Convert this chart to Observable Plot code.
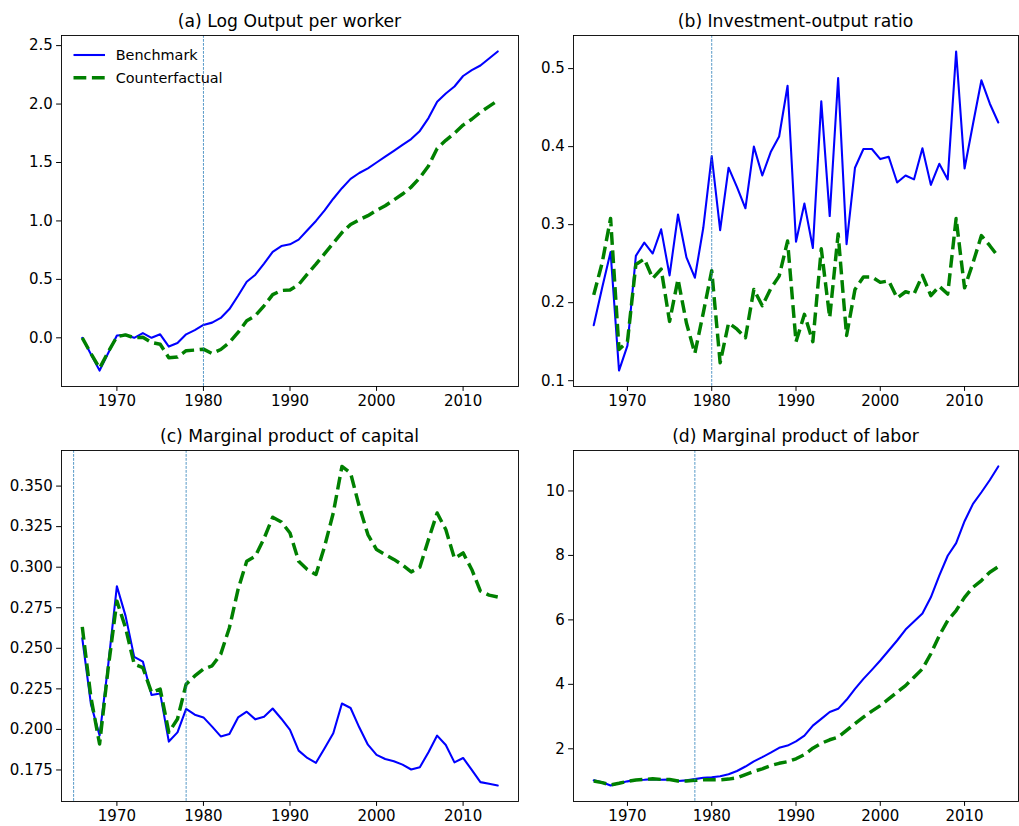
<!DOCTYPE html>
<html><head><meta charset="utf-8">
<script src="https://cdn.jsdelivr.net/npm/d3@7"></script>
<script src="https://cdn.jsdelivr.net/npm/@observablehq/plot@0.6"></script>
<style>
body{margin:0;background:#fff;font-family:"DejaVu Sans",sans-serif;}
#fig{position:relative;width:1019px;height:826px;overflow:hidden;background:#fff;}
.panel{position:absolute;}
.title{position:absolute;text-align:center;font-family:"DejaVu Sans",sans-serif;font-size:17.2px;line-height:20px;color:#000;white-space:nowrap;}
</style></head><body><div id="fig"></div>
<script>
const years = [1966,1967,1968,1969,1970,1971,1972,1973,1974,1975,1976,1977,1978,1979,1980,1981,1982,1983,1984,1985,1986,1987,1988,1989,1990,1991,1992,1993,1994,1995,1996,1997,1998,1999,2000,2001,2002,2003,2004,2005,2006,2007,2008,2009,2010,2011,2012,2013,2014];

const seriesNames = ["Benchmark", "Counterfactual"];
const titles = ["(a) Log Output per worker", "(b) Investment-output ratio", "(c) Marginal product of capital", "(d) Marginal product of labor"];
const xTicks = [1970, 1980, 1990, 2000, 2010];

// (a) Log output per worker
const outputBench = [0.00,-0.14,-0.28,-0.13,0.02,0.025,0.00,0.04,0.00,0.03,-0.075,-0.045,0.03,0.066,0.11,0.13,0.17,0.246,0.36,0.48,0.54,0.635,0.735,0.785,0.80,0.84,0.92,1.00,1.09,1.19,1.28,1.36,1.41,1.45,1.50,1.55,1.60,1.65,1.70,1.77,1.88,2.02,2.09,2.15,2.24,2.29,2.33,2.39,2.45];
const outputCf = [0.00,-0.135,-0.26,-0.12,0.01,0.025,0.00,0.005,-0.04,-0.055,-0.17,-0.165,-0.11,-0.105,-0.097,-0.134,-0.10,-0.04,0.046,0.146,0.19,0.274,0.37,0.405,0.41,0.455,0.545,0.63,0.72,0.81,0.90,0.97,1.01,1.045,1.09,1.13,1.18,1.23,1.29,1.37,1.47,1.62,1.69,1.75,1.82,1.87,1.93,1.98,2.03];
const outputTicks = [0, 0.5, 1.0, 1.5, 2.0, 2.5];
const outputRules = [1980];

// (b) Investment-output ratio
const invBench = [0.171,0.219,0.265,0.113,0.145,0.26,0.277,0.263,0.294,0.235,0.313,0.258,0.232,0.296,0.388,0.293,0.373,0.348,0.321,0.40,0.363,0.393,0.413,0.478,0.278,0.327,0.270,0.458,0.311,0.488,0.275,0.373,0.397,0.397,0.384,0.387,0.354,0.363,0.358,0.398,0.351,0.378,0.358,0.522,0.372,0.429,0.485,0.455,0.431];
const invCf = [0.21,0.251,0.308,0.14,0.15,0.249,0.256,0.231,0.243,0.176,0.23,0.174,0.135,0.187,0.241,0.123,0.174,0.166,0.155,0.217,0.196,0.218,0.234,0.279,0.150,0.185,0.150,0.269,0.181,0.288,0.158,0.217,0.233,0.233,0.226,0.228,0.206,0.214,0.211,0.235,0.209,0.221,0.211,0.308,0.219,0.251,0.286,0.273,0.259];
const invTicks = [0.1, 0.2, 0.3, 0.4, 0.5];
const invRules = [1980];

// (c) Marginal product of capital
const mpkBench = [0.2562,0.2156,0.1962,0.240,0.2883,0.270,0.2447,0.2418,0.2212,0.2222,0.1925,0.1982,0.2126,0.2091,0.2074,0.2017,0.1957,0.1972,0.2074,0.2109,0.2062,0.2078,0.2129,0.2066,0.1997,0.1869,0.1824,0.1794,0.1884,0.1976,0.216,0.2132,0.2013,0.1906,0.1843,0.1818,0.1804,0.1783,0.1753,0.1767,0.1859,0.1962,0.1904,0.1797,0.1824,0.1751,0.1675,0.1665,0.1654];
const mpkCf = [0.2632,0.2197,0.191,0.238,0.2791,0.2627,0.2402,0.2381,0.2228,0.2249,0.1982,0.2064,0.2279,0.233,0.2372,0.2392,0.2464,0.2627,0.2863,0.3037,0.3068,0.3177,0.3308,0.3279,0.3211,0.3037,0.2986,0.2955,0.3129,0.3334,0.3621,0.358,0.3375,0.3201,0.3109,0.3078,0.3048,0.3013,0.2971,0.300,0.317,0.3334,0.3232,0.3054,0.3088,0.2986,0.2853,0.2828,0.2816];
const mpkTicks = [0.175, 0.200, 0.225, 0.250, 0.275, 0.300, 0.325, 0.350];
const mpkRules = [1965, 1978];

// (d) Marginal product of labor
const mplBench = [1.02,0.96,0.86,0.93,0.99,1.03,1.04,1.06,1.04,1.05,1.00,1.02,1.06,1.10,1.12,1.15,1.21,1.31,1.45,1.61,1.74,1.88,2.03,2.10,2.23,2.41,2.72,2.93,3.14,3.24,3.52,3.86,4.17,4.45,4.74,5.05,5.36,5.70,5.95,6.20,6.70,7.37,7.99,8.38,9.06,9.60,9.96,10.34,10.76];
const mplCf = [1.00,0.95,0.88,0.93,0.99,1.03,1.05,1.07,1.05,1.05,1.00,1.00,1.02,1.04,1.04,1.04,1.06,1.10,1.20,1.30,1.38,1.48,1.55,1.60,1.69,1.82,2.02,2.17,2.28,2.36,2.57,2.78,2.98,3.17,3.34,3.55,3.76,3.96,4.22,4.48,4.95,5.51,5.98,6.29,6.70,7.01,7.22,7.48,7.65];
const mplTicks = [2, 4, 6, 8, 10];
const mplRules = [1978];

const fig = document.getElementById("fig");

function padDomain(a, b) {
  const lo = Math.min(...a, ...b), hi = Math.max(...a, ...b), m = (hi - lo) * 0.05;
  return [lo - m, hi + m];
}
const xDomain = padDomain(years, years);
const FS = 15;

function panel(o) {
  const toRows = (vals, name) => years.map((y, i) => ({year: y, value: vals[i], series: name}));
  const bench = toRows(o.bench, seriesNames[0]);
  const cf = toRows(o.cf, seriesNames[1]);
  const svg = Plot.plot({
    width: o.width, height: o.height,
    marginTop: o.mt, marginRight: o.mr, marginBottom: o.mb, marginLeft: o.ml,
    style: {fontFamily: "DejaVu Sans", fontSize: FS + "px", color: "#000", background: "white", overflow: "visible"},
    x: {domain: xDomain, label: null},
    y: {domain: padDomain(o.bench, o.cf), label: null},
    marks: [
      Plot.axisX(xTicks, {tickFormat: "d", label: null, tickSize: 4.9, tickPadding: 3.6, fontSize: FS, fontFamily: "DejaVu Sans", stroke: "#000", fill: "#000"}),
      Plot.axisY(o.yTicks, {tickFormat: o.yFormat, label: null, tickSize: 4.9, tickPadding: 3.8, fontSize: FS, fontFamily: "DejaVu Sans", stroke: "#000", fill: "#000"}),
      Plot.line(bench, {x: "year", y: "value", stroke: "blue", strokeWidth: 2.08}),
      Plot.line(cf, {x: "year", y: "value", stroke: "green", strokeWidth: 3.47, strokeDasharray: "12.8,5.6", strokeLinecap: "butt"}),
      Plot.ruleX(o.rules, {stroke: "#1f77b4", strokeWidth: 0.75, strokeDasharray: "2.8,1.2"}),
      Plot.frame({stroke: "#000", strokeWidth: 0.9})
    ]
  });
  const wrap = document.createElement("div");
  wrap.className = "panel";
  wrap.style.left = o.left + "px";
  wrap.style.top = o.top + "px";
  wrap.appendChild(svg);
  fig.appendChild(wrap);
  const t = document.createElement("div");
  t.className = "title";
  t.textContent = o.title;
  t.style.left = (o.left + o.ml) + "px";
  t.style.width = (o.width - o.ml - o.mr) + "px";
  t.style.top = (o.top + o.mt - 8.3 - 16.2) + "px";
  fig.appendChild(t);
  return svg;
}

const svgA = panel({bench: outputBench, cf: outputCf, yTicks: outputTicks, yFormat: ".1f", rules: outputRules,
  left: 0, top: 0, width: 519, height: 410, mt: 35, mr: 1, mb: 24, ml: 61, title: titles[0]});
panel({bench: invBench, cf: invCf, yTicks: invTicks, yFormat: ".1f", rules: invRules,
  left: 519, top: 0, width: 500, height: 410, mt: 35, mr: 1, mb: 24, ml: 54, title: titles[1]});
panel({bench: mpkBench, cf: mpkCf, yTicks: mpkTicks, yFormat: ".3f", rules: mpkRules,
  left: 0, top: 410, width: 519, height: 416, mt: 40, mr: 1, mb: 25, ml: 61, title: titles[2]});
panel({bench: mplBench, cf: mplCf, yTicks: mplTicks, yFormat: "d", rules: mplRules,
  left: 519, top: 410, width: 500, height: 416, mt: 40, mr: 1, mb: 25, ml: 54, title: titles[3]});

// legend in panel (a)
const lg = d3.select(svgA).append("g").attr("font-family", "DejaVu Sans").attr("font-size", "14.4px").attr("text-anchor", "start");
const legendStyles = [
  {stroke: "blue", width: 2.08, dash: null},
  {stroke: "green", width: 3.47, dash: "12.8,5.6"}
];
seriesNames.forEach((name, i) => {
  const yy = 55 + i * 22.7;
  const s = legendStyles[i];
  const ln = lg.append("line").attr("x1", 73.5).attr("x2", 105).attr("y1", yy).attr("y2", yy)
    .attr("stroke", s.stroke).attr("stroke-width", s.width);
  if (s.dash) ln.attr("stroke-dasharray", s.dash).attr("stroke-linecap", "butt");
  lg.append("text").attr("x", 115.7).attr("y", yy + 5.2).attr("fill", "#000").attr("text-anchor", "start").text(name);
});
</script></body></html>
